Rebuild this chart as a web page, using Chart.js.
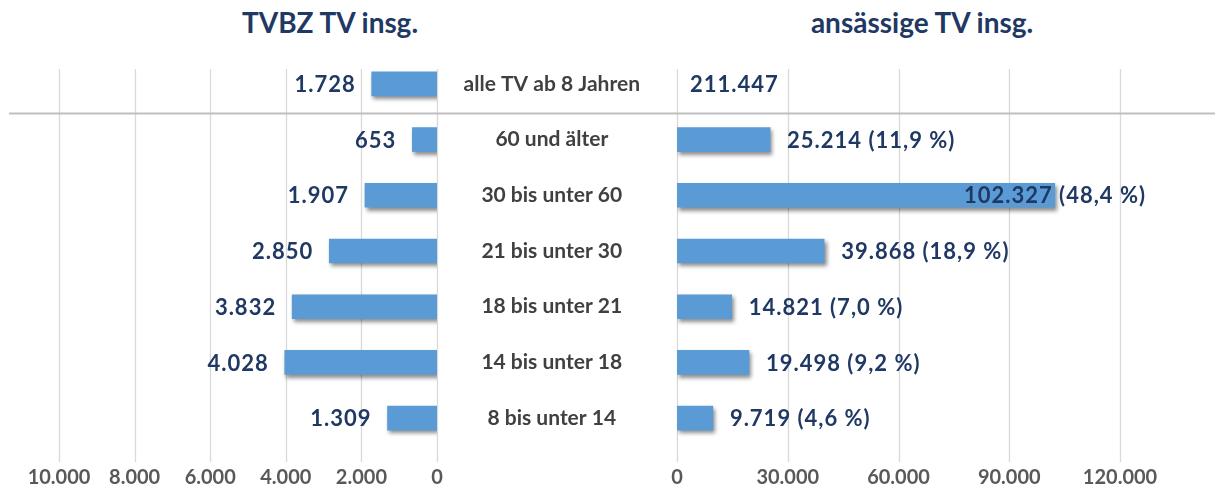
<!DOCTYPE html>
<html><head><meta charset="utf-8">
<script src="https://cdn.jsdelivr.net/npm/chart.js@4"></script>
<style>
html,body{margin:0;padding:0;background:#fff;}
#wrap{position:relative;width:1215px;height:488px;overflow:hidden;background:#fff;}
#lc{position:absolute;left:0;top:0;width:450px;height:488px;}
#rc{position:absolute;left:450px;top:0;width:765px;height:488px;}
.title{position:absolute;top:5px;font:bold 28px Lato;color:#1F3864;white-space:nowrap;transform:translateX(-50%);}
</style></head><body>
<div id="wrap">
<div class="title" style="left:330px">TVBZ TV insg.</div>
<div class="title" style="left:922px">ansässige TV insg.</div>
<div id="lc"><canvas id="c1"></canvas></div>
<div id="rc"><canvas id="c2"></canvas></div>
</div>
<script>
const categories = ["alle TV ab 8 Jahren","60 und älter","30 bis unter 60","21 bis unter 30","18 bis unter 21","14 bis unter 18","8 bis unter 14"];
const tvbzValues = [1728, 653, 1907, 2850, 3832, 4028, 1309];
const ansaessigeValues = [null, 25214, 102327, 39868, 14821, 19498, 9719];
const ansaessigeTotal = 211447;
const ansaessigePercent = [null, 11.9, 48.4, 18.9, 7.0, 9.2, 4.6];
const leftTicks = {min: 0, max: 10000, step: 2000};
const rightTicks = {min: 0, max: 120000, step: 30000};

const FONT = 'Lato';
const BAR = '#5B9BD5';
const NAVY = '#1F3864';
function fmt(n){ return String(n).replace(/\B(?=(\d{3})+(?!\d))/g, '.'); }
function pct(p){ return '(' + p.toFixed(1).replace('.', ',') + ' %)'; }

const gridPlugin = {
  id: 'gridLines',
  beforeDatasetsDraw(chart, args, opts) {
    const {ctx, chartArea} = chart;
    const xs = chart.scales.x, ys = chart.scales.y;
    ctx.save();
    ctx.strokeStyle = '#D9D9D9';
    ctx.lineWidth = 1.3;
    xs.ticks.forEach(t => {
      const px = Math.round(xs.getPixelForValue(t.value)) + 0.5;
      ctx.beginPath();
      ctx.moveTo(px, chartArea.top + 13);
      ctx.lineTo(px, chartArea.bottom + 16);
      ctx.stroke();
    });
    const sy = Math.round(ys.getPixelForValue(0.53)) + 0.5;
    ctx.strokeStyle = '#BFBFBF';
    ctx.lineWidth = 2;
    ctx.beginPath();
    ctx.moveTo(opts.x0, sy);
    ctx.lineTo(opts.x1, sy);
    ctx.stroke();
    ctx.restore();
  }
};
const shadowPlugin = {
  id: 'barShadow',
  beforeDatasetsDraw(chart) {
    const ctx = chart.ctx;
    ctx.save();
    ctx.shadowColor = 'rgba(0,0,0,0.45)';
    ctx.shadowBlur = 4;
    ctx.shadowOffsetX = 2;
    ctx.shadowOffsetY = 3;
  },
  afterDatasetsDraw(chart) { chart.ctx.restore(); }
};
function labelFont(ctx) {
  ctx.font = 'bold 22px ' + FONT;
  try { ctx.letterSpacing = '1px'; } catch (e) {}
  ctx.fillStyle = NAVY;
  ctx.textBaseline = 'middle';
}
const leftLabels = {
  id: 'leftLabels',
  afterDraw(chart) {
    const ctx = chart.ctx;
    const meta = chart.getDatasetMeta(0);
    ctx.save();
    labelFont(ctx);
    ctx.textAlign = 'right';
    meta.data.forEach((bar, i) => {
      ctx.fillText(fmt(tvbzValues[i]), bar.x - 16, bar.y + 1);
    });
    ctx.restore();
  }
};
const rightLabels = {
  id: 'rightLabels',
  afterDraw(chart) {
    const ctx = chart.ctx;
    const meta = chart.getDatasetMeta(0);
    const xs = chart.scales.x, ys = chart.scales.y;
    const limit = 696;
    ctx.save();
    labelFont(ctx);
    ctx.textAlign = 'left';
    ctx.fillText(fmt(ansaessigeTotal), xs.getPixelForValue(0) + 13, ys.getPixelForValue(0) + 1);
    meta.data.forEach((bar, i) => {
      if (ansaessigeValues[i] == null) return;
      const txt = fmt(ansaessigeValues[i]) + ' ' + pct(ansaessigePercent[i]);
      const w = ctx.measureText(txt).width;
      let x = bar.x + 17;
      if (x + w > limit) x = limit - w;
      ctx.fillText(txt, x, bar.y + 1);
    });
    ctx.restore();
  }
};

const tickFont = {family: FONT, size: 20, weight: 'bold'};
const catFont = {family: FONT, size: 21, weight: 'bold'};

function xAxis(t, reverse) {
  return {
    type: 'linear', position: 'bottom', reverse: reverse,
    min: t.min, max: t.max,
    grid: {display: false, drawTicks: false},
    border: {display: false},
    ticks: {stepSize: t.step, padding: 20, color: '#595959', font: tickFont, callback: v => fmt(v), maxRotation: 0, autoSkip: false},
    afterFit: s => { s.height = 40; s.paddingLeft = 0; s.paddingRight = 0; }
  };
}

const common = {
  indexAxis: 'y', responsive: true, maintainAspectRatio: false, animation: false,
  plugins: {legend: {display: false}, tooltip: {enabled: false}, title: {display: false}}
};

new Chart(document.getElementById('c1'), {
  type: 'bar',
  data: {labels: categories, datasets: [{data: tvbzValues, backgroundColor: BAR, barThickness: 24, borderWidth: 0}]},
  options: Object.assign({}, common, {
    layout: {padding: {left: 59, right: 13, top: 56, bottom: 2}},
    plugins: Object.assign({}, common.plugins, {gridLines: {x0: 9, x1: 450}}),
    scales: {
      x: xAxis(leftTicks, true),
      y: {type: 'category', display: false, offset: true}
    }
  }),
  plugins: [gridPlugin, shadowPlugin, leftLabels]
});

const mc = document.createElement('canvas').getContext('2d');
mc.font = 'bold 21px ' + FONT;
const widest = Math.max(...categories.map(c => mc.measureText(c).width));
const catPad = Math.round((677 - 552) - widest / 2);

new Chart(document.getElementById('c2'), {
  type: 'bar',
  data: {labels: categories, datasets: [{data: ansaessigeValues, backgroundColor: BAR, barThickness: 24, borderWidth: 0}]},
  options: Object.assign({}, common, {
    layout: {padding: {left: 0, right: 95, top: 56, bottom: 2}},
    plugins: Object.assign({}, common.plugins, {gridLines: {x0: 0, x1: 765}}),
    scales: {
      x: xAxis(rightTicks, false),
      y: {type: 'category', position: 'left', offset: true,
          grid: {display: false, drawTicks: false}, border: {display: false},
          ticks: {crossAlign: 'center', padding: catPad, color: '#404040', font: catFont},
          afterFit: s => { s.width = 227; s.paddingTop = 0; s.paddingBottom = 0; }}
    }
  }),
  plugins: [gridPlugin, shadowPlugin, rightLabels]
});
</script>
</body></html>
